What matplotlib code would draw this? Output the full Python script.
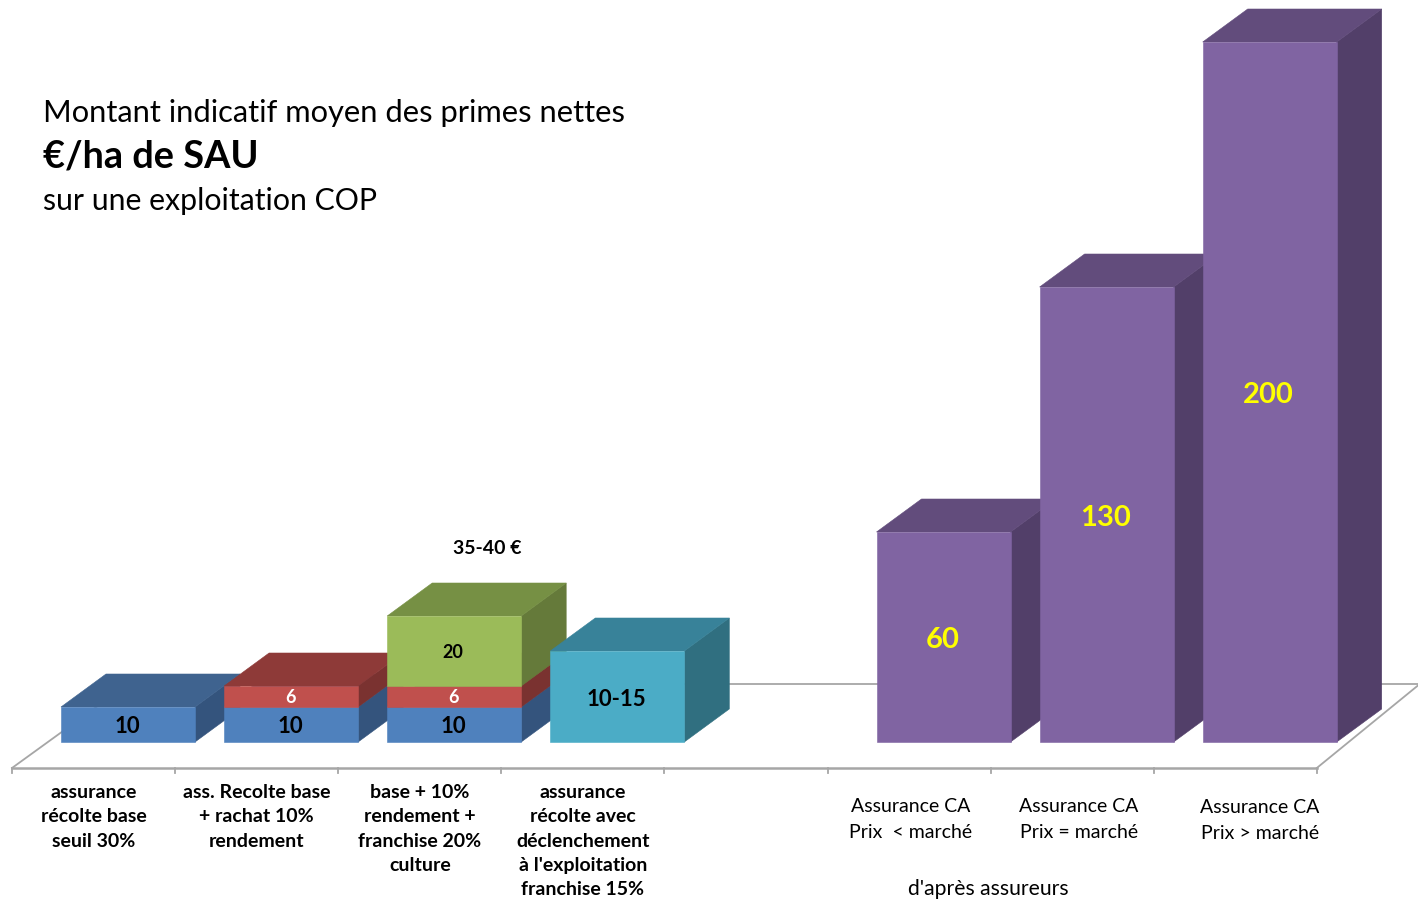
import matplotlib
matplotlib.use("Agg")
import matplotlib.pyplot as plt
from matplotlib.patches import Polygon

plt.rcParams['font.family'] = ['Lato', 'DejaVu Sans']

# --- Donnees (EUR/ha) ---
slots = [0, 1, 2, 3, 5, 6, 7]
base = [10, 10, 10, 0, 0, 0, 0]
rachat = [0, 6, 6, 0, 0, 0, 0]
franchise = [0, 0, 20, 0, 0, 0, 0]
exploitation = [0, 0, 0, 26, 0, 0, 0]
chiffre_affaires = [0, 0, 0, 0, 60, 130, 200]

labels_recolte = ["assurance\nrécolte base\nseuil 30%",
                  "ass. Recolte base\n+ rachat 10%\nrendement",
                  "base + 10%\nrendement +\nfranchise 20%\nculture",
                  "assurance\nrécolte avec\ndéclenchement\nà l'exploitation\nfranchise 15%"]
labels_ca = ["Assurance CA\nPrix  < marché",
             "Assurance CA\nPrix = marché",
             "Assurance CA\nPrix > marché"]
label_exploitation = "10-15"

# (face, dessus, cote, couleur du texte, taille, decalage du texte en px)
styles = [
    (base, '#4F81BD', '#3F638F', '#34547D', 'black', 16, 2),
    (rachat, '#C0504D', '#8E3A38', '#7A3230', 'white', 13, 1),
    (franchise, '#9BBB59', '#769044', '#657A3A', 'black', 13, 2),
    (exploitation, '#4BACC6', '#388299', '#306F80', 'black', 16, 3),
    (chiffre_affaires, '#8064A2', '#624C7C', '#523F69', '#FFFF00', 21, 3.5),
]

# --- Geometrie ---
W, H = 1418, 899
y0_px = 742
px_per_unit = 3.5
slot_w = 163.1
x_first = 12
bar_off = 49
bar_w = 134
dx = 45
dy = 33 / px_per_unit
floor_y = -26 / px_per_unit
back_y = 58 / px_per_unit
grid_col = '#A6A6A6'


def py(pixel):
    return (y0_px - pixel) / px_per_unit


fig = plt.figure(figsize=(W / 100, H / 100), dpi=100)
ax = fig.add_axes([0, 0, 1, 1])
ax.set_xlim(0, W)
ax.set_ylim(py(H), py(0))
ax.axis('off')

# --- Sol ---
x_end = x_first + 8 * slot_w
ax.plot([x_first, x_end], [floor_y, floor_y], color=grid_col, lw=1.8, zorder=1)
ax.plot([x_first, x_first + 116], [floor_y, back_y], color=grid_col, lw=1.3, zorder=1)
ax.plot([x_end, W + 3], [floor_y, py(683)], color=grid_col, lw=1.3, zorder=1)
ax.plot([x_first + 116, W], [back_y, back_y], color=grid_col, lw=1.3, zorder=1)
for i in range(9):
    xt = x_first + i * slot_w
    ax.plot([xt, xt], [floor_y, py(773)], color=grid_col, lw=1.3, zorder=1)


def face(pts, color, z):
    ax.add_patch(Polygon(pts, closed=True, facecolor=color, edgecolor=color, lw=0.4, zorder=z))


# --- Barres ---
z = 2
for k, slot in enumerate(slots):
    x = x_first + slot * slot_w + bar_off
    bottom = 0
    for values, col, col_top, col_side, txt_col, size, shift in styles:
        v = values[k]
        if v == 0:
            continue
        top = bottom + v
        face([(x + bar_w, bottom), (x + bar_w + dx, bottom + dy),
              (x + bar_w + dx, top + dy), (x + bar_w, top)], col_side, z)
        face([(x, top), (x + bar_w, top), (x + bar_w + dx, top + dy), (x + dx, top + dy)], col_top, z)
        face([(x, bottom), (x + bar_w, bottom), (x + bar_w, top), (x, top)], col, z + 0.1)
        txt = label_exploitation if values is exploitation else str(v)
        ax.text(x + bar_w / 2 - 1, (bottom + top) / 2 - shift / px_per_unit, txt, color=txt_col,
                fontsize=size, fontweight='bold', ha='center', va='center', zorder=50)
        bottom = top
        z += 0.2

ax.text(487, py(549), "35-40 €", fontsize=14, fontweight='bold', ha='center', va='center')

# --- Etiquettes de l'axe ---
for i, lab in enumerate(labels_recolte):
    ax.text(x_first + (i + 0.5) * slot_w, py(784), lab, fontsize=14, fontweight='bold',
            ha='center', va='top', linespacing=1.52)
for lab, xc, yc in zip(labels_ca, [911, 1079, 1260], [798, 798, 799]):
    ax.text(xc, py(yc), lab, fontsize=14, ha='center', va='top', linespacing=1.62)
ax.text(988, py(889), "d'après assureurs", fontsize=15.2, ha='center', va='center')

# --- Titre ---
ax.text(43, py(113), "Montant indicatif moyen des primes nettes", fontsize=22.2, va='center')
ax.text(43, py(157), "€/ha de SAU", fontsize=27.3, fontweight='bold', va='center')
ax.text(43, py(201), "sur une exploitation COP", fontsize=21.8, va='center')

fig.savefig("out.png", dpi=100)
